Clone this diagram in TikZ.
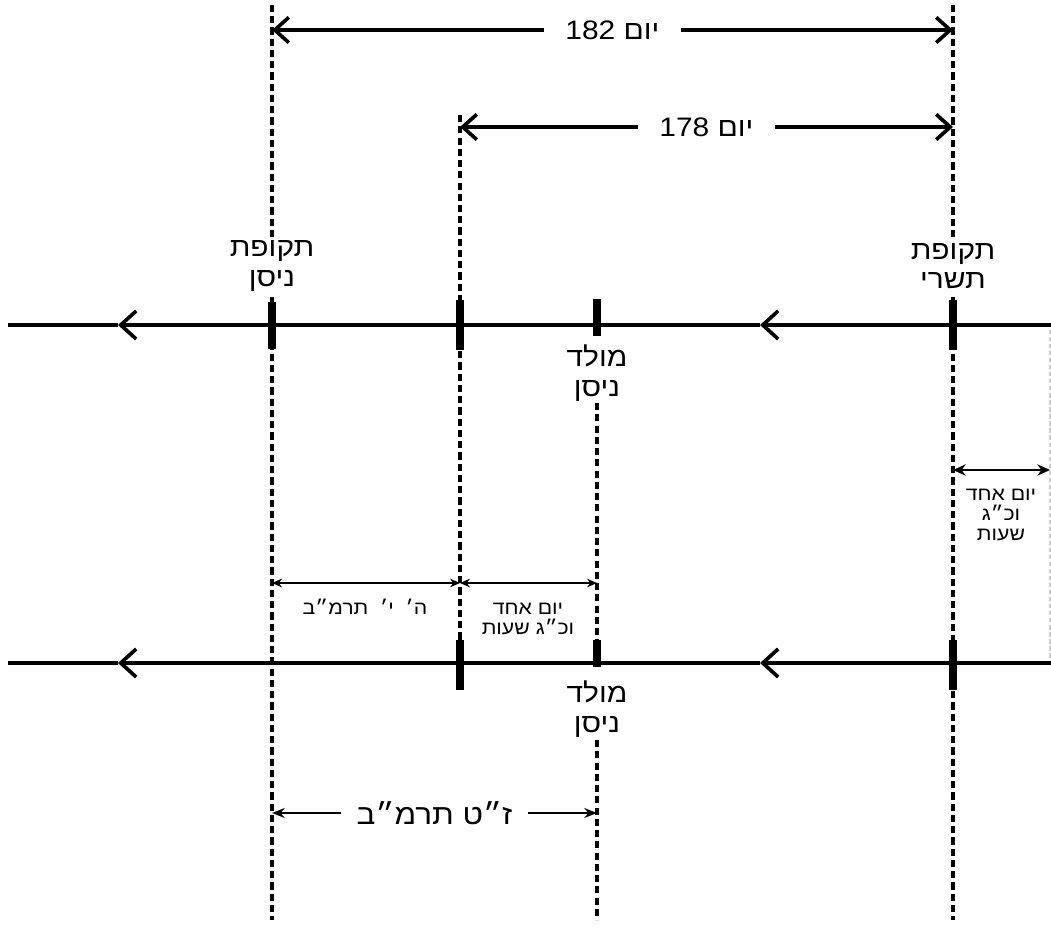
\documentclass[tikz,border=0pt]{standalone}
\usepackage{fontspec}
\newfontfamily\hebfont[Script=Hebrew,FakeStretch=1.12]{Liberation Sans}
\TeXXeTstate=1
\usetikzlibrary{arrows.meta}

\begin{document}
\begin{tikzpicture}[
    x=0.025cm, y=-0.025cm,
    axis/.style={line width=2.8pt},
    barb/.style={-{Straight Barb[length=11pt,width=20pt,line width=2.6pt]}},
    tickmark/.style={line width=5.5pt},
    guide/.style={line width=2.6pt, dash pattern=on 5pt off 3pt},
    bigspan/.style={{Straight Barb[length=10pt,width=18pt,line width=2.6pt]}-{Straight Barb[length=10pt,width=18pt,line width=2.6pt]}, line width=2.8pt},
    smallspan/.style={{Stealth[length=7pt,width=6pt]}-{Stealth[length=7pt,width=6pt]}, line width=1.5pt},
    bigtext/.style={font=\hebfont\fontsize{19}{21}\selectfont, align=center, inner sep=0pt},
    smalltext/.style={font=\hebfont\fontsize{13.5}{14.5}\selectfont, align=center, inner sep=0pt},
    gap/.style={fill=white, inner xsep=15pt, inner ysep=2pt},
    cover/.style={fill=white, inner sep=3pt}
]
\useasboundingbox (0,0) rectangle (1051,927);

% Points on the two time lines
\coordinate (nissan) at (272,325);
\coordinate (start) at (460,325);
\coordinate (molad) at (597,325);
\coordinate (tishri) at (953,325);
\coordinate (nissanB) at (272,663);
\coordinate (startB) at (460,663);
\coordinate (moladB) at (597,663);
\coordinate (tishriB) at (953,663);

% Upper time line
\coordinate (rightA) at (1051,325);
\coordinate (midA) at (760,325);
\coordinate (leftA) at (118,325);
\coordinate (endA) at (8,325);
\draw[axis, barb] (rightA) -- (midA);
\draw[axis, barb] (midA) -- (leftA);
\draw[axis] (leftA) -- (endA);

% Lower time line
\coordinate (rightB) at (1051,663);
\coordinate (midB) at (760,663);
\coordinate (leftB) at (118,663);
\coordinate (endB) at (8,663);
\draw[axis, barb] (rightB) -- (midB);
\draw[axis, barb] (midB) -- (leftB);
\draw[axis] (leftB) -- (endB);

% Dashed guides
\draw[guide] (272,5) -- (272,920);
\draw[guide] (460,115) -- (460,690);
\draw[guide] (597,403) -- (597,640);
\draw[guide] (597,740) -- (597,920);
\draw[guide] (953,5) -- (953,920);
\draw[gray!40, line width=0.8pt, dash pattern=on 3pt off 2pt] (1050,330) -- (1050,660);

% Tick marks
\draw[tickmark] (272,302) -- (272,349);
\draw[tickmark] (460,300) -- (460,350);
\draw[tickmark] (597,299) -- (597,336);
\draw[tickmark] (953,300) -- (953,350);
\draw[tickmark] (460,640) -- (460,690);
\draw[tickmark] (597,640) -- (597,667);
\draw[tickmark] (953,640) -- (953,690);

% Labels on the lines
\node[bigtext, cover] (tqnissan) at (272,266) {\beginR תקופת\endR\\\beginR ניסן\endR};
\node[bigtext, cover] (tqtishri) at (953,266) {\beginR תקופת\endR\\\beginR תשרי\endR};
\node[bigtext] (moladA) at (597,373) {\beginR מולד\endR\\\beginR ניסן\endR};
\node[bigtext] (moladL) at (597,709) {\beginR מולד\endR\\\beginR ניסן\endR};

% Spans at the top
\coordinate (a182) at (272,30);
\coordinate (b182) at (953,30);
\draw[bigspan] (a182) -- node[bigtext, gap] (t182) {\beginR יום 182\endR} (b182);
\coordinate (a178) at (460,127);
\coordinate (b178) at (953,127);
\draw[bigspan] (a178) -- node[bigtext, gap] (t178) {\beginR יום 178\endR} (b178);

% Small spans
\coordinate (a23r) at (953,470);
\coordinate (b23r) at (1050,470);
\draw[line width=1.8pt, {Stealth[length=9pt,width=8pt]}-{Stealth[length=9pt,width=8pt]}] (a23r) -- (b23r);
\node[smalltext] (t23r) at (1001,515) {\beginR יום אחד\endR\\\beginR וכ״ג\endR\\\beginR שעות\endR};

\coordinate (a5) at (272,583);
\coordinate (b5) at (460,583);
\draw[smallspan] (a5) -- (b5);
\node[smalltext] (t5) at (365,607) {\beginR ה׳ \ י׳ \ תרמ״ב\endR};

\coordinate (a23) at (460,583);
\coordinate (b23) at (597,583);
\draw[smallspan] (a23) -- (b23);
\node[smalltext] (t23) at (528,619) {\beginR יום אחד\endR\\\beginR וכ״ג שעות\endR};

% Span at the bottom
\coordinate (a7) at (272,813);
\coordinate (b7) at (597,813);
\draw[line width=1.8pt, {Stealth[length=9pt,width=7pt]}-{Stealth[length=9pt,width=7pt]}] (a7) -- node[gap, font=\hebfont\fontsize{20}{20}\selectfont, inner sep=0pt, inner xsep=11pt] (t7) {\beginR ז״ט תרמ״ב\endR} (b7);

\end{tikzpicture}
\end{document}
